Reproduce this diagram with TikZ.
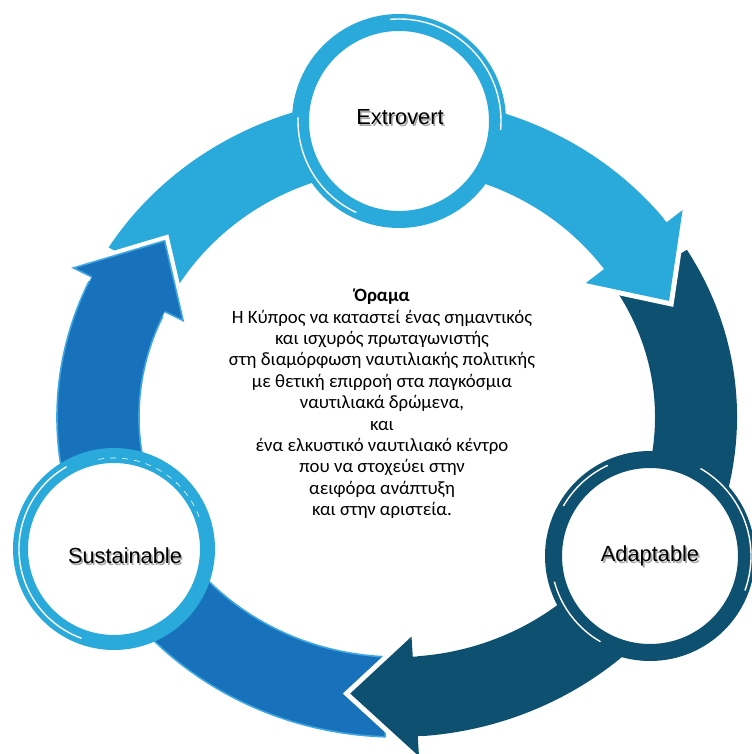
\documentclass[tikz,border=0pt]{standalone}
\usepackage{fontspec}
\setmainfont{Carlito}
\newfontfamily\labelfont{Liberation Sans}
\usetikzlibrary{calc}

\definecolor{lightarc}{RGB}{42,169,219}
\definecolor{darkarc}{RGB}{14,80,112}
\definecolor{midarc}{RGB}{24,114,187}
\definecolor{midedge}{RGB}{62,166,224}

% label text with a soft drop shadow
\newcommand\shadowed[1]{\makebox[0pt][l]{\hspace{0.8pt}\raisebox{-0.8pt}{\textcolor{black!35}{#1}}}#1}

\begin{document}
\begin{tikzpicture}[x=0.5pt, y=0.5pt,
  headrim/.style={draw=white, line width=5pt, line join=miter},
  ring/.style={circle, fill=white, line width=8.5pt, minimum size=98.5pt, inner sep=0pt},
  glint/.style={white, line width=0.7pt},
  tag/.style={font=\labelfont\fontsize{10.9}{13}\selectfont},
  vision/.style={align=center, font=\fontsize{9.4}{10.7}\selectfont}]
\useasboundingbox (0,0) rectangle (751,754);
% Centre of the big cycle
\coordinate (ctr) at (397,337);
% Bodies of the three arrows (outer ellipse 340/320, inner 258/240)
\fill[lightarc] ([shift={(ctr)}]148:340 and 320)
  arc[start angle=148, end angle=36, x radius=340, y radius=320]
  -- ([shift={(ctr)}]36:258 and 248)
  arc[start angle=36, end angle=148, x radius=258, y radius=248] -- cycle;
\fill[darkarc] ([shift={(ctr)}]31.5:340 and 320)
  arc[start angle=31.5, end angle=-88, x radius=340, y radius=320]
  -- ([shift={(ctr)}]-88:258 and 240)
  arc[start angle=-88, end angle=31.5, x radius=258, y radius=240] -- cycle;
\filldraw[fill=midarc, draw=midedge, line width=0.8pt] ([shift={(ctr)}]-92:340 and 320)
  arc[start angle=-92, end angle=-207.5, x radius=340, y radius=320]
  -- ([shift={(ctr)}]-207.5:258 and 240)
  arc[start angle=-207.5, end angle=-92, x radius=258, y radius=240] -- cycle;
% Heads, each lying over the tail of the next arrow
\foreach \base/\tip/\col in {37.5/24.5/lightarc, -86.5/-99/darkarc, -206/-219/midarc} {
  \path[headrim] ([shift={(ctr)}]\base:340 and 320) -- ([shift={(ctr)}]\base:360 and 340)
    -- ([shift={(ctr)}]\tip:299 and 280)
    -- ([shift={(ctr)}]\base:238 and 220) -- ([shift={(ctr)}]\base:258 and 240);
  \fill[\col] ([shift={(ctr)}]\base:340 and 320) -- ([shift={(ctr)}]\base:360 and 340)
    -- ([shift={(ctr)}]\tip:299 and 280)
    -- ([shift={(ctr)}]\base:238 and 220) -- ([shift={(ctr)}]\base:258 and 240) -- cycle;
}
% light edge of the middle-blue head
\draw[midedge, line width=0.8pt] ([shift={(ctr)}]-206:340 and 320) -- ([shift={(ctr)}]-206:360 and 340)
  -- ([shift={(ctr)}]-219:299 and 280)
  -- ([shift={(ctr)}]-206:238 and 220) -- ([shift={(ctr)}]-206:258 and 240);
% The three rings
\node[ring, draw=lightarc] (extro) at (399,633) {};
\node[ring, draw=darkarc, minimum size=96.5pt] (adapt) at (650,198) {};
\node[ring, draw=lightarc, minimum size=93.5pt, line width=7.5pt] (sustain) at (114,205) {};
% thin white strokes inside the rings
\draw[glint] (extro.center) ++(95:102) arc[start angle=95, end angle=-5, radius=102];
\draw[glint] (extro.center) ++(178:101) arc[start angle=178, end angle=245, radius=101];
\draw[glint] (adapt.center) ++(150:100) arc[start angle=150, end angle=115, radius=100];
\draw[glint] (adapt.center) ++(60:101) arc[start angle=60, end angle=-20, radius=101];
\draw[glint] (adapt.center) ++(195:99) arc[start angle=195, end angle=240, radius=99];
\draw[glint] (sustain.center) ++(120:95) arc[start angle=120, end angle=250, radius=95];
\draw[glint, dashed, line width=0.3pt] (sustain.center) ++(100:91) arc[start angle=100, end angle=20, radius=91];
% Labels
\node[tag] (extrolbl) at (400,636) {\shadowed{Extrovert}};
\node[tag] (adaptlbl) at (650,197) {\shadowed{Adaptable}};
\node[tag] (sustainlbl) at (125,197) {\shadowed{Sustainable}};
% Vision statement
\node[vision] (goal) at (382,350) {\textbf{Όραμα}\\
  Η Κύπρος να καταστεί ένας σημαντικός\\
  και ισχυρός πρωταγωνιστής\\
  στη διαμόρφωση ναυτιλιακής πολιτικής\\
  με θετική επιρροή στα παγκόσμια\\
  ναυτιλιακά δρώμενα,\\
  και\\
  ένα ελκυστικό ναυτιλιακό κέντρο\\
  που να στοχεύει στην\\
  αειφόρα ανάπτυξη\\
  και στην αριστεία.};
\end{tikzpicture}
\end{document}
